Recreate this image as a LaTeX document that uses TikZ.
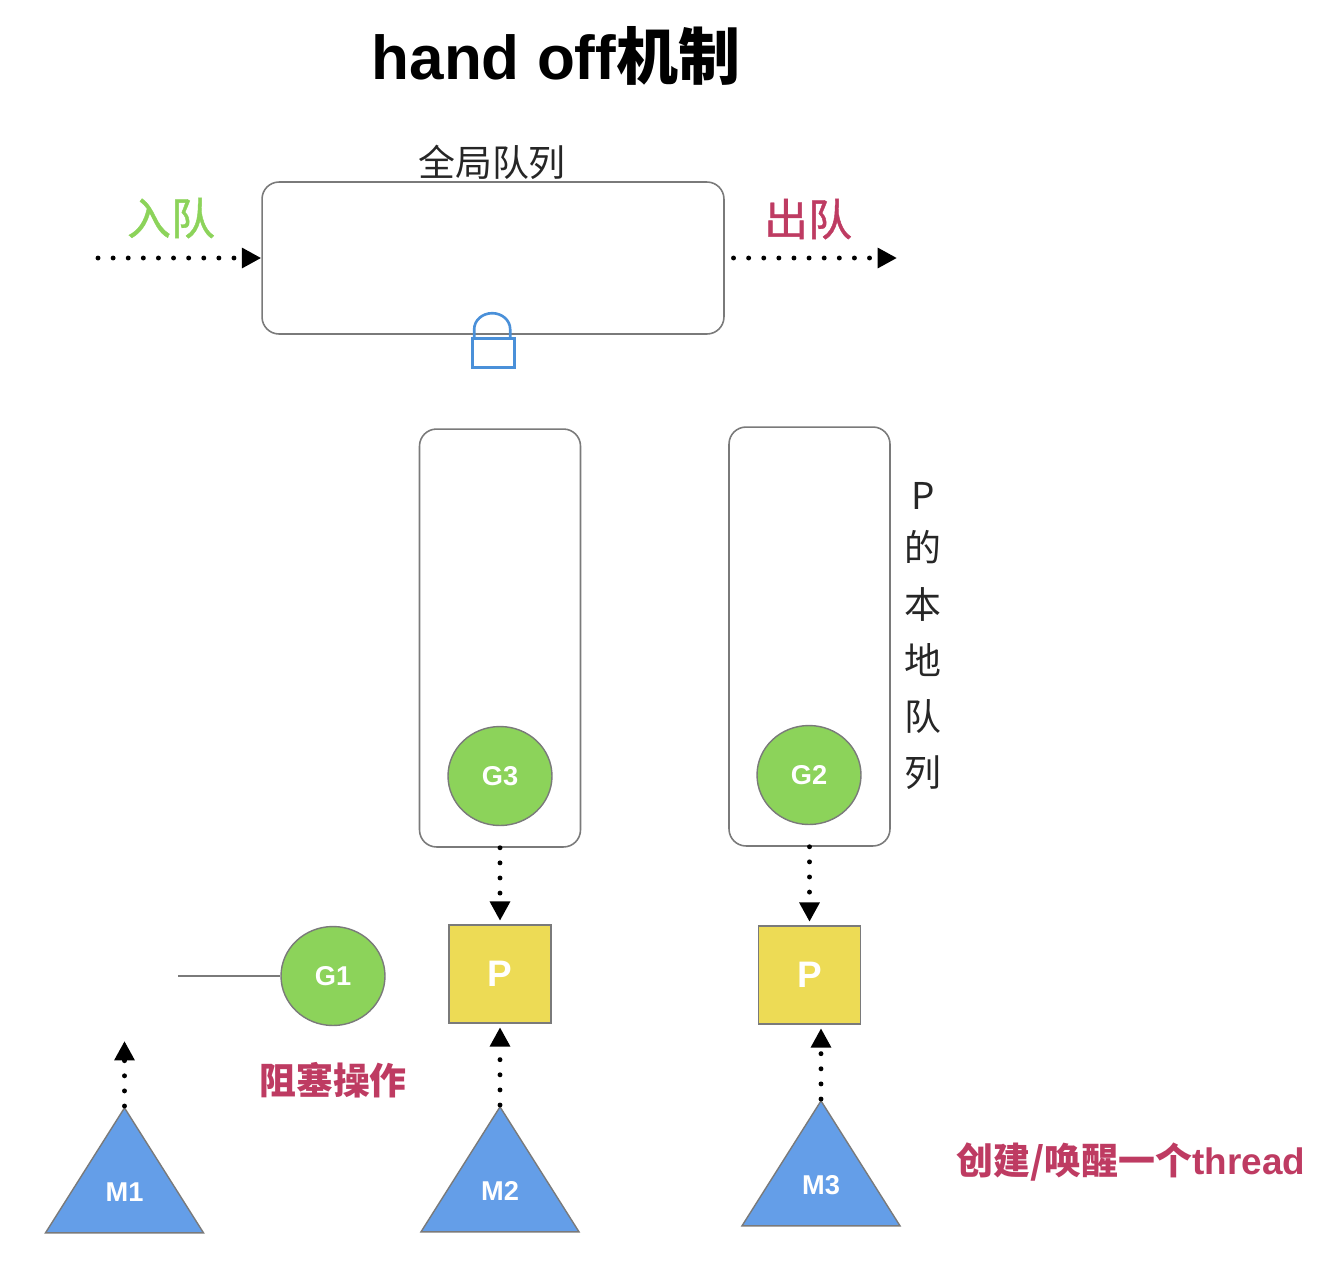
\documentclass[tikz,border=0pt]{standalone}
\usepackage{fontspec}
\setmainfont{Liberation Sans}
\newfontfamily\cjk{Noto Sans CJK SC}
\newfontfamily\cjkmid[FakeBold=1]{Noto Sans CJK SC}
\usetikzlibrary{arrows.meta,shapes.geometric}
\definecolor{gfill}{HTML}{8CD35A}
\definecolor{pfill}{HTML}{EDDB55}
\definecolor{mfill}{HTML}{649EE8}
\definecolor{lockblue}{HTML}{4A90D9}
\definecolor{redtext}{HTML}{BE3B62}
\definecolor{edge}{HTML}{7A7A7A}

\begin{document}
\begin{tikzpicture}[
    x=0.02cm,
    y=-0.02cm,
    queue/.style={draw=edge, line width=0.9pt, rounded corners=0.34cm},
    gnode/.style={ellipse, draw=edge, fill=gfill, line width=0.8pt, minimum width=2.08cm, minimum height=1.98cm, inner sep=0pt, text=white, font=\bfseries\fontsize{15.5}{15.5}\selectfont},
    pnode/.style={rectangle, draw=edge, fill=pfill, line width=0.8pt, minimum width=2.04cm, minimum height=1.96cm, inner sep=0pt, text=white, font=\bfseries\fontsize{21}{21}\selectfont},
    mnode/.style={isosceles triangle, isosceles triangle stretches, shape border rotate=90, anchor=apex, draw=edge, fill=mfill, line width=0.8pt, minimum width=3.16cm, minimum height=2.5cm, inner sep=0pt, text depth=0.15cm, text=white, font=\bfseries\fontsize{15.5}{15.5}\selectfont},
    flow/.style={dash pattern=on 0pt off 8.6pt, line cap=round, line width=2.8pt, -{Triangle[length=11pt, width=11pt, line cap=butt]}},
    label/.style={font=\cjk\fontsize{21}{21}\selectfont},
    redlabel/.style={font=\cjk\bfseries\fontsize{21}{21}\selectfont, text=redtext}
]
\useasboundingbox (0,0) rectangle (1332,1262);

\node[font=\bfseries\fontsize{35.3}{35.3}\selectfont] (title) at (556,56) {hand off{\cjk 机制}};

\node[queue, minimum width=9.24cm, minimum height=3.04cm] (globalq) at (493,258) {};
\node[label, text=black!85] (globallabel) at (492,162) {全局队列};
\node[font=\cjkmid\fontsize{25}{25}\selectfont, text=gfill] (inlabel) at (171,218) {入队};
\node[font=\cjkmid\fontsize{25}{25}\selectfont, text=redtext] (outlabel) at (808,219) {出队};
\coordinate (instart) at (98,258);
\coordinate (outend) at (897,258);
\draw[flow] (instart) -- (globalq.west);
\draw[flow, shorten <=5pt] (globalq.east) -- (outend);

\node[draw=lockblue, line width=1.5pt, minimum width=0.84cm, minimum height=0.58cm, inner sep=0pt] (lock) at (493.5,353) {};
\draw[lockblue, line width=1.5pt] (lock.north west) ++(3,0) -- ++(0,-8) arc[start angle=180, end angle=0, x radius=0.36cm, y radius=0.32cm] -- ++(0,8);

\node[queue, minimum width=3.22cm, minimum height=8.36cm] (localq1) at (500,638) {};
\node[queue, minimum width=3.22cm, minimum height=8.38cm] (localq2) at (809.5,636.5) {};
\node[label, align=center, text=black!85, font=\cjk\fontsize{21}{32}\selectfont] (locallabel) at (923,636) {P\\[-2pt]的\\本\\地\\队\\列};

\node[gnode] (g3) at (500,776) {G3};
\node[gnode] (g2) at (809,775) {G2};
\node[gnode] (g1) at (333,976) {G1};
\node[pnode] (p1) at (500,974) {P};
\node[pnode] (p2) at (809.5,975) {P};

\node[mnode] (m1) at (124.5,1106) {M1};
\node[mnode] (m2) at (500,1105) {M2};
\node[mnode] (m3) at (821,1099) {M3};

\coordinate (g1tail) at (178,976);
\coordinate (m1end) at (124.5,1041);
\draw[edge, line width=0.9pt] (g1tail) -- (g1.west);
\draw[flow, shorten >=2pt] (localq1.south) -- (p1.north);
\draw[flow, shorten >=2pt] (localq2.south) -- (p2.north);
\draw[flow, shorten >=2pt] (m2.apex) -- (p1.south);
\draw[flow, shorten >=2pt] (m3.apex) -- (m3.apex |- p2.south);
\draw[flow] (m1.apex) -- (m1end);

\node[redlabel] (blocklabel) at (333,1080) {阻塞操作};
\node[redlabel, font=\bfseries\fontsize{21}{21}\selectfont] (wakelabel) at (1131,1162) {{\cjk 创建/唤醒一个}thread};

\end{tikzpicture}
\end{document}
